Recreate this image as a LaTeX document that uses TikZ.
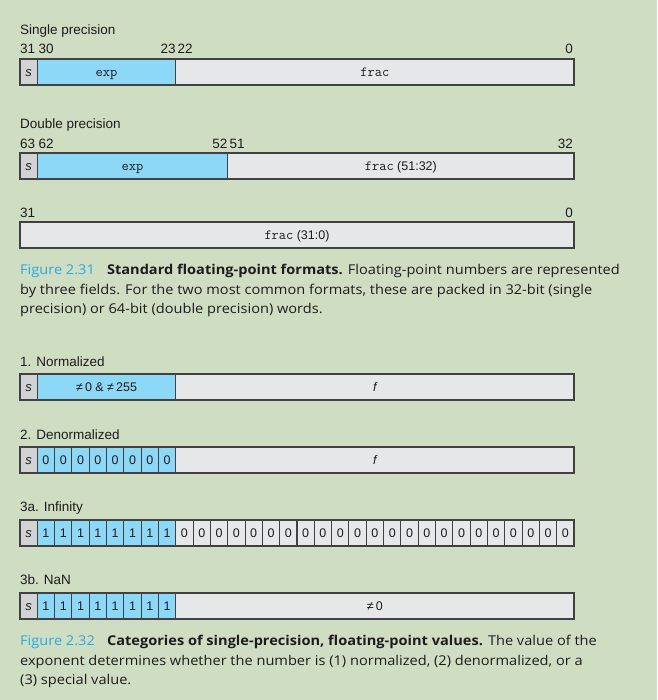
\documentclass[tikz,border=0pt]{standalone}
\usepackage{fontspec}
\setmainfont{Liberation Sans}
\newfontfamily\leyenda[FakeStretch=1.08]{Open Sans}
\usepackage{tikz}
\usetikzlibrary{positioning}
\definecolor{fondo}{RGB}{207,222,195}
\definecolor{azul}{RGB}{141,215,247}
\definecolor{grisF}{RGB}{230,231,232}
\definecolor{grisS}{RGB}{209,211,212}
\definecolor{borde}{RGB}{65,64,66}
\definecolor{cian}{RGB}{39,170,225}
\definecolor{tinta}{RGB}{30,27,28}
\def\bw{17.3125}
\newcommand{\mono}[1]{{\ttfamily\fontsize{14}{16}\selectfont #1}}
\tikzset{
  campo/.style={draw=borde,line width=1.1pt,minimum height=26pt,inner sep=0pt,outer sep=0pt,
    text=tinta,text height=9pt,text depth=0pt,font=\fontsize{12.5}{14}\selectfont},
  signo/.style={campo,fill=grisS,minimum width=\bw*1pt,font=\fontsize{13}{14}\selectfont\itshape},
  exponente/.style={campo,fill=azul},
  fraccion/.style={campo,fill=grisF},
  bitazul/.style={exponente,minimum width=\bw*1pt},
  bitgris/.style={fraccion,minimum width=\bw*1pt},
  etiq/.style={text=tinta,inner sep=0pt,anchor=base west,font=\fontsize{13.5}{16}\selectfont},
  num/.style={text=tinta,inner sep=0pt,font=\fontsize{13.5}{16}\selectfont},
  leyendatxt/.style={anchor=base west,inner sep=0pt,align=left,text=tinta,
    font=\leyenda\fontsize{13.5}{19.4}\selectfont}
}
\begin{document}
\begin{tikzpicture}[x=1pt,y=-1pt]
\path[use as bounding box,fill=fondo] (0,0) rectangle (657,700);
% simple
\node[etiq] (tsimple) at (20,34.3) {Single precision};
\node[num,anchor=base west] (s31) at (20,54) {31};
\node[num,anchor=base west] (s30) at (38.5,54) {30};
\node[num,anchor=base east] (s23) at (175.8,54) {23};
\node[num,anchor=base west] (s22) at (177.5,54) {22};
\node[num,anchor=base east] (s0) at (573,54) {0};
\node[signo] (sg1) at (20+\bw/2,72) {s};
\node[exponente,minimum width=8*\bw*1pt,right=0pt of sg1] (ex1) {\mono{exp}};
\node[fraccion,minimum width=23*\bw*1pt,right=0pt of ex1] (fr1) {\mono{frac}};
% doble
\node[etiq] (tdoble) at (20,128.3) {Double precision};
\node[num,anchor=base west] (d63) at (20,148.3) {63};
\node[num,anchor=base west] (d62) at (38.5,148.3) {62};
\node[num,anchor=base east] (d52) at (227.7,148.3) {52};
\node[num,anchor=base west] (d51) at (229.4,148.3) {51};
\node[num,anchor=base east] (d32) at (573,148.3) {32};
\node[signo] (sg2) at (20+\bw/2,166) {s};
\node[exponente,minimum width=11*\bw*1pt,right=0pt of sg2] (ex2) {\mono{exp}};
\node[fraccion,minimum width=20*\bw*1pt,right=0pt of ex2] (fr2) {\mono{frac} (51:32)};
\node[num,anchor=base west] (d31) at (20,217.3) {31};
\node[num,anchor=base east] (d0) at (573,217.3) {0};
\node[fraccion,minimum width=32*\bw*1pt] (fr3) at (297,235) {\mono{frac} (31:0)};
% leyenda 2.31
\node[leyendatxt] (ley1) at (20,313.7) {{\color{cian}Figure 2.31}\hspace{0.9em}\textbf{Standard floating-point formats.} Floating-point numbers are represented\\
by three fields. For the two most common formats, these are packed in 32-bit (single\\
precision) or 64-bit (double precision) words.};
% normalizado
\node[etiq] (tnorm) at (20,366) {1. Normalized};
\node[signo] (sg4) at (20+\bw/2,387) {s};
\node[exponente,minimum width=8*\bw*1pt,right=0pt of sg4] (ex4) {≠\,0 \& ≠\,255};
\node[fraccion,minimum width=23*\bw*1pt,right=0pt of ex4] (fr4) {\itshape f};
% desnormalizado
\node[etiq] (tdesn) at (20,439) {2. Denormalized};
\node[signo] (sg5) at (20+\bw/2,460) {s};
\foreach \i in {1,...,8}
  \node[bitazul] (dn\i) at (20+\i*\bw+\bw/2,460) {0};
\node[fraccion,minimum width=23*\bw*1pt,right=0pt of dn8] (fr5) {\itshape f};
% infinito
\node[etiq] (tinf) at (20,511) {3a. Infinity};
\node[signo] (sg6) at (20+\bw/2,533) {s};
\foreach \i in {1,...,8}
  \node[bitazul] (in\i) at (20+\i*\bw+\bw/2,533) {1};
\foreach \i in {9,...,31}
  \node[bitgris] (in\i) at (20+\i*\bw+\bw/2,533) {0};
% nan
\node[etiq] (tnan) at (20,584) {3b. NaN};
\node[signo] (sg7) at (20+\bw/2,606) {s};
\foreach \i in {1,...,8}
  \node[bitazul] (nn\i) at (20+\i*\bw+\bw/2,606) {1};
\node[fraccion,minimum width=23*\bw*1pt,right=0pt of nn8] (fr7) {≠\,0};
% leyenda 2.32
\node[leyendatxt] (ley2) at (20,684.5) {{\color{cian}Figure 2.32}\hspace{0.9em}\textbf{Categories of single-precision, floating-point values.} The value of the\\
exponent determines whether the number is (1) normalized, (2) denormalized, or a\\
(3) special value.};
\end{tikzpicture}
\end{document}
